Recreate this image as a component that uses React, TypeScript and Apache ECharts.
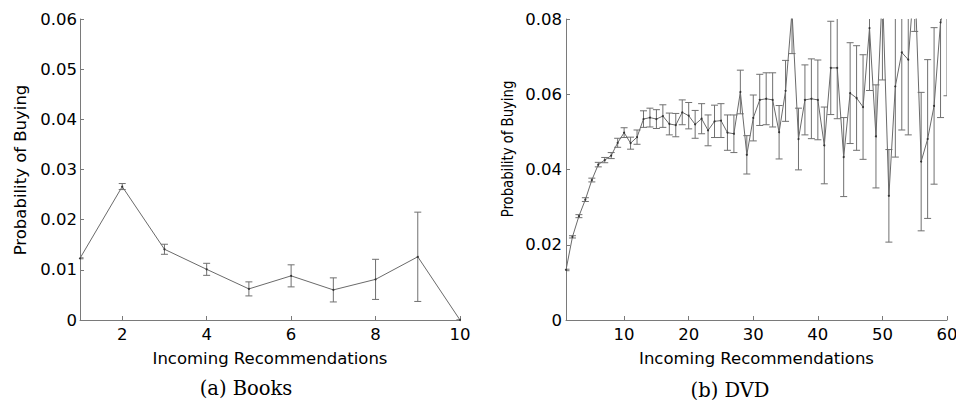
import React, { useEffect, useRef } from "react";
import * as echarts from "echarts";

const BOOKS_X = [1, 2, 3, 4, 5, 6, 7, 8, 9, 10];
const BOOKS_Y = [0.0123, 0.0266, 0.0141, 0.0101, 0.0062, 0.0088, 0.006, 0.0081, 0.0126, 0];
const BOOKS_ERR = [0.0001, 0.0006, 0.001, 0.0012, 0.0014, 0.0022, 0.0024, 0.004, 0.0089, 0];

const DVD_X = [
  1, 2, 3, 4, 5, 6, 7, 8, 9, 10, 11, 12, 13, 14, 15, 16, 17, 18, 19, 20,
  21, 22, 23, 24, 25, 26, 27, 28, 29, 30, 31, 32, 33, 34, 35, 36, 37, 38, 39, 40,
  41, 42, 43, 44, 45, 46, 47, 48, 49, 50, 51, 52, 53, 54, 55, 56, 57, 58, 59, 60,
];
const DVD_Y = [
  0.0133, 0.0221, 0.0276, 0.032, 0.0372, 0.0413, 0.0425, 0.0437, 0.0471, 0.0498,
  0.047, 0.0486, 0.0534, 0.0538, 0.0534, 0.0542, 0.0521, 0.0518, 0.0552, 0.0543,
  0.052, 0.0535, 0.0504, 0.0528, 0.053, 0.0498, 0.0495, 0.0606, 0.0439, 0.0537,
  0.0585, 0.0588, 0.0585, 0.0499, 0.0609, 0.082, 0.0481, 0.0585, 0.0588, 0.0585,
  0.0464, 0.067, 0.067, 0.0433, 0.0603, 0.059, 0.0566, 0.0776, 0.0488, 0.088,
  0.033, 0.0621, 0.0711, 0.0692, 0.092, 0.0421, 0.0481, 0.0569, 0.0791, 0.086,
];
const DVD_ERR = [
  0.0002, 0.0003, 0.0004, 0.0005, 0.0005, 0.0006, 0.0007, 0.0008, 0.0012, 0.0013,
  0.0016, 0.0019, 0.0022, 0.0025, 0.0025, 0.003, 0.0029, 0.0031, 0.0033, 0.0035,
  0.0037, 0.004, 0.0041, 0.0043, 0.0045, 0.0047, 0.005, 0.0058, 0.0051, 0.0061,
  0.0068, 0.0069, 0.0072, 0.0071, 0.0081, 0.0112, 0.0082, 0.0093, 0.0106, 0.0106,
  0.0102, 0.0124, 0.0135, 0.0105, 0.0134, 0.0139, 0.0139, 0.0166, 0.0137, 0.0242,
  0.0123, 0.0188, 0.0206, 0.02, 0.0153, 0.0184, 0.0211, 0.0208, 0.0253, 0.0264,
];

const BOOKS_TICKS = [2, 4, 6, 8, 10];
const DVD_TICKS = [10, 20, 30, 40, 50, 60];

const AXIS_COLOR = "#7a7a7a";
const LINE_COLOR = "#6a6a6a";
const BAR_COLOR = "#707070";
const FONT = "DejaVu Sans";

function errorRender(params: any, api: any) {
  const x = api.value(0);
  const y = api.value(1);
  const e = api.value(2);
  const top = api.coord([x, y + e]);
  const bot = api.coord([x, y - e]);
  const hw = 3.5;
  const style = { stroke: BAR_COLOR, lineWidth: 1, fill: "none" };
  return {
    type: "group",
    children: [
      { type: "line", shape: { x1: top[0], y1: top[1], x2: bot[0], y2: bot[1] }, style },
      { type: "line", shape: { x1: top[0] - hw, y1: top[1], x2: top[0] + hw, y2: top[1] }, style },
      { type: "line", shape: { x1: bot[0] - hw, y1: bot[1], x2: bot[0] + hw, y2: bot[1] }, style },
    ],
  };
}

function xAxisCfg(gridIndex: number, min: number, max: number, ticks: number[]) {
  return {
    type: "value",
    gridIndex,
    min,
    max,
    name: "Incoming Recommendations",
    nameLocation: "middle",
    nameGap: 30,
    nameTextStyle: { color: "#000", fontFamily: FONT, fontSize: 16.5 },
    axisLine: { show: true, onZero: false, lineStyle: { color: AXIS_COLOR, width: 1 } },
    axisTick: { show: true, inside: true, length: 4, customValues: ticks, lineStyle: { color: AXIS_COLOR } },
    axisLabel: { show: true, margin: 6, customValues: ticks, color: "#000", fontFamily: FONT, fontSize: 16.5 },
    splitLine: { show: false },
  };
}

function yAxisCfg(gridIndex: number, max: number, interval: number, margin: number) {
  return {
    type: "value",
    gridIndex,
    min: 0,
    max,
    interval,
    axisLine: { show: true, onZero: false, lineStyle: { color: AXIS_COLOR, width: 1 } },
    axisTick: { show: true, inside: true, length: 4, lineStyle: { color: AXIS_COLOR } },
    axisLabel: {
      show: true,
      margin,
      color: "#000",
      fontFamily: FONT,
      fontSize: 16.5,
      formatter: (v: number) => (v === 0 ? "0" : v.toFixed(2)),
    },
    splitLine: { show: false },
  };
}

export default function App() {
  const ref = useRef<HTMLDivElement>(null);
  useEffect(() => {
    if (!ref.current) return;
    const chart = echarts.init(ref.current, null, { renderer: "svg" });
    const booksLine = BOOKS_X.map((x, i) => [x, BOOKS_Y[i]]);
    const booksErr = BOOKS_X.map((x, i) => [x, BOOKS_Y[i], BOOKS_ERR[i]]);
    const dvdLine = DVD_X.map((x, i) => [x, DVD_Y[i]]);
    const dvdErr = DVD_X.map((x, i) => [x, DVD_Y[i], DVD_ERR[i]]);
    chart.setOption({
      animation: false,
      backgroundColor: "#fff",
      grid: [
        { left: 80, right: 496, top: 19, bottom: 80, containLabel: false, outerBoundsMode: "none" },
        { left: 566, right: 9, top: 19, bottom: 80, containLabel: false, outerBoundsMode: "none" },
      ],
      xAxis: [xAxisCfg(0, 1, 10, BOOKS_TICKS), xAxisCfg(1, 1, 60, DVD_TICKS)],
      yAxis: [yAxisCfg(0, 0.06, 0.01, 3), yAxisCfg(1, 0.08, 0.02, 4)],
      series: [
        {
          type: "custom",
          xAxisIndex: 0,
          yAxisIndex: 0,
          data: booksErr,
          renderItem: errorRender,
          encode: { x: 0, y: 1 },
          clip: true,
          silent: true,
        },
        {
          type: "line",
          xAxisIndex: 0,
          yAxisIndex: 0,
          data: booksLine,
          symbol: "circle",
          symbolSize: 2,
          itemStyle: { color: "#333" },
          lineStyle: { color: LINE_COLOR, width: 1 },
          clip: true,
          silent: true,
        },
        {
          type: "custom",
          xAxisIndex: 1,
          yAxisIndex: 1,
          data: dvdErr,
          renderItem: errorRender,
          encode: { x: 0, y: 1 },
          clip: true,
          silent: true,
        },
        {
          type: "line",
          xAxisIndex: 1,
          yAxisIndex: 1,
          data: dvdLine,
          symbol: "circle",
          symbolSize: 2,
          itemStyle: { color: "#333" },
          lineStyle: { color: LINE_COLOR, width: 1 },
          clip: true,
          silent: true,
        },
      ],
      graphic: [
        {
          type: "text",
          x: 20.5,
          y: 170,
          rotation: Math.PI / 2,
          style: {
            text: "Probability of Buying",
            fill: "#000",
            font: `16.5px "${FONT}"`,
            align: "center",
            verticalAlign: "middle",
          },
        },
        {
          type: "text",
          x: 507,
          y: 149,
          rotation: Math.PI / 2,
          scaleX: 0.8,
          style: {
            text: "Probability of Buying",
            fill: "#000",
            font: `16.5px "${FONT}"`,
            align: "center",
            verticalAlign: "middle",
          },
        },
        {
          type: "text",
          x: 246,
          y: 388,
          style: {
            text: "(a) Books",
            fill: "#000",
            font: '19.5px "DejaVu Serif"',
            align: "center",
            verticalAlign: "middle",
          },
        },
        {
          type: "text",
          x: 730,
          y: 390,
          style: {
            text: "(b) DVD",
            fill: "#000",
            font: '19.5px "DejaVu Serif"',
            align: "center",
            verticalAlign: "middle",
          },
        },
      ],
    });
    return () => chart.dispose();
  }, []);
  return (
    <div
      ref={ref}
      style={{ position: "fixed", left: 0, top: 0, width: 956, height: 400, background: "#fff" }}
    />
  );
}
